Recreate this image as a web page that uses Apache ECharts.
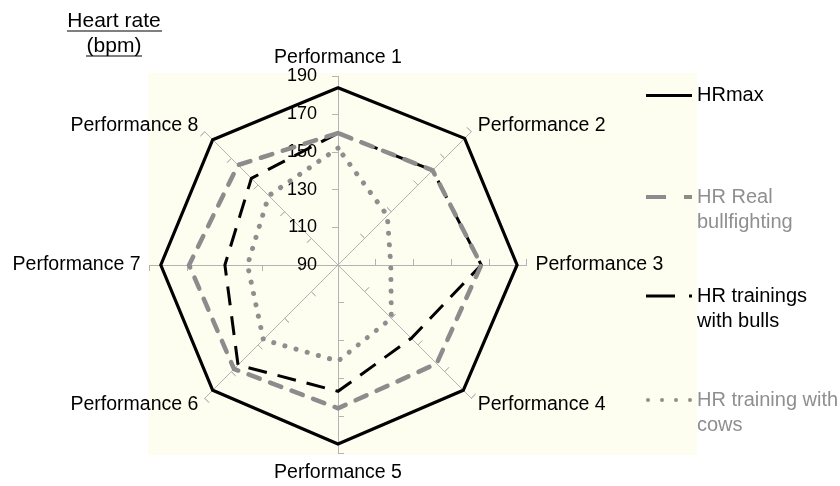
<!DOCTYPE html>
<html><head><meta charset="utf-8">
<script src="https://cdn.jsdelivr.net/npm/echarts@6/dist/echarts.min.js"></script>
<style>html,body{margin:0;padding:0;background:#fff}#c{width:840px;height:486px}</style>
</head><body><div id="c"></div>
<script>
// ---- data ----
const categories = ['Performance 1','Performance 2','Performance 3','Performance 4','Performance 5','Performance 6','Performance 7','Performance 8'];
const seriesNames = ['HRmax','HR Real bullfighting','HR trainings with bulls','HR training with cows'];
const hrMax   = [184, 185, 185, 184, 185, 184, 184, 184];
const hrReal  = [160, 161, 166, 164, 166, 168, 169, 165];
const hrBulls = [160, 161, 166, 145, 157, 165, 150, 155];
const hrCows  = [152, 127, 118, 130, 141, 146, 138, 142];
const axisMin = 90, axisMax = 190, axisStep = 20;
const titleLines = ['Heart rate', '(bpm)'];

// ---- chart ----
const FONT = '"Liberation Sans", Arial, Helvetica, sans-serif';
const chart = echarts.init(document.getElementById('c'));
// ECharts places radar indicators counter-clockwise; reorder so they run clockwise
const order = [0,7,6,5,4,3,2,1];
const splitN = (axisMax - axisMin) / axisStep;
const indicators = order.map((k, i) => {
  const ind = { name: categories[k], min: axisMin, max: axisMax };
  if (i === 0) ind.axisLabel = { show: true };
  return ind;
});
const pick = arr => order.map(k => arr[k]);

const axisGray = '#b4b4b4';
const baseRadar = {
  center: [338, 265], radius: 188.5, startAngle: 90, shape: 'polygon',
  splitNumber: splitN,
  splitLine: { show: false }, splitArea: { show: false },
  axisLine: { show: true, lineStyle: { color: axisGray, width: 1 } },
  axisName: { color: '#000', fontSize: 19.5, fontFamily: FONT },
  nameGap: 9,
  axisLabel: { show: false, color: '#000', fontSize: 18, fontFamily: FONT, margin: 21 }
};
const radar0 = Object.assign({}, baseRadar, {
  indicator: indicators,
  axisTick: { show: true, inside: false, length: 6, lineStyle: { color: axisGray } }
});
const radar1 = Object.assign({}, baseRadar, {
  indicator: order.map(k => ({ name: categories[k], min: axisMin, max: axisMax })),
  axisName: { show: false },
  axisTick: { show: true, inside: true, length: 6, lineStyle: { color: axisGray } }
});

const styles = [
  { color: '#000000', width: 3.2, type: 'solid', cap: 'round', z: 4 },
  { color: '#8c8c8c', width: 4.5, type: [12, 11], cap: 'round', z: 3 },
  { color: '#000000', width: 3, type: [19, 11], cap: 'butt', z: 2 },
  { color: '#8e8e8e', width: 5, type: [0.1, 11.5], cap: 'round', z: 1 }
];
const values = [hrMax, hrReal, hrBulls, hrCows];
const series = seriesNames.map((nm, i) => ({
  type: 'radar', name: nm, radarIndex: 0, symbol: 'none', z: 2 + styles[i].z,
  itemStyle: { color: styles[i].color },
  lineStyle: { color: styles[i].color, width: styles[i].width, type: styles[i].type, cap: styles[i].cap, join: 'miter' },
  data: [{ name: nm, value: pick(values[i]) }]
}));

const icons = [
  'path://M0,0H46V3H0Z',
  'path://M0,0H20V4H0Z M38,0H46V4H38Z',
  'path://M0,0H29V3H0Z M43,0H46V3H43Z',
  'path://M0,2a2,2 0 1,0 4,0a2,2 0 1,0 -4,0Z M14,2a2,2 0 1,0 4,0a2,2 0 1,0 -4,0Z M28,2a2,2 0 1,0 4,0a2,2 0 1,0 -4,0Z M42,2a2,2 0 1,0 4,0a2,2 0 1,0 -4,0Z'
];
const iconH = [3, 4, 3, 4];
const legendTops = [83, 159.5, 258.5, 362.5];
const legendTextColors = ['#000', '#8f8f8f', '#000', '#8f8f8f'];
const legendLabels = ['HRmax', 'HR Real\nbullfighting', 'HR trainings\nwith bulls', 'HR training with\ncows'];
const legends = seriesNames.map((nm, i) => {
  const twoLines = legendLabels[i].indexOf('\n') >= 0;
  return {
    data: [nm], left: 646, top: legendTops[i], padding: 0, orient: 'vertical',
    itemWidth: 46, itemHeight: iconH[i], icon: icons[i], selectedMode: false,
    // a leading empty line keeps the icon level with the first text line
    formatter: () => (twoLines ? ' \n' : '') + legendLabels[i],
    textStyle: { color: legendTextColors[i], fontSize: 20, fontFamily: FONT, lineHeight: 25 }
  };
});

chart.setOption({
  animation: false,
  backgroundColor: '#ffffff',
  title: {
    text: titleLines.join('\n'), left: 114, top: 9, padding: 0, textAlign: 'center',
    textStyle: { fontSize: 21, fontWeight: 'normal', color: '#000', fontFamily: FONT, lineHeight: 25 }
  },
  graphic: [
    { type: 'rect', z: -10, shape: { x: 148, y: 73, width: 549, height: 382 }, style: { fill: '#fdfdf0' }, silent: true },
    { type: 'line', shape: { x1: 67, y1: 31, x2: 162, y2: 31 }, style: { stroke: '#000', lineWidth: 1.2 } },
    { type: 'line', shape: { x1: 86, y1: 56, x2: 142, y2: 56 }, style: { stroke: '#000', lineWidth: 1.2 } }
  ],
  legend: legends,
  radar: [radar0, radar1],
  series: series
});
</script></body></html>
